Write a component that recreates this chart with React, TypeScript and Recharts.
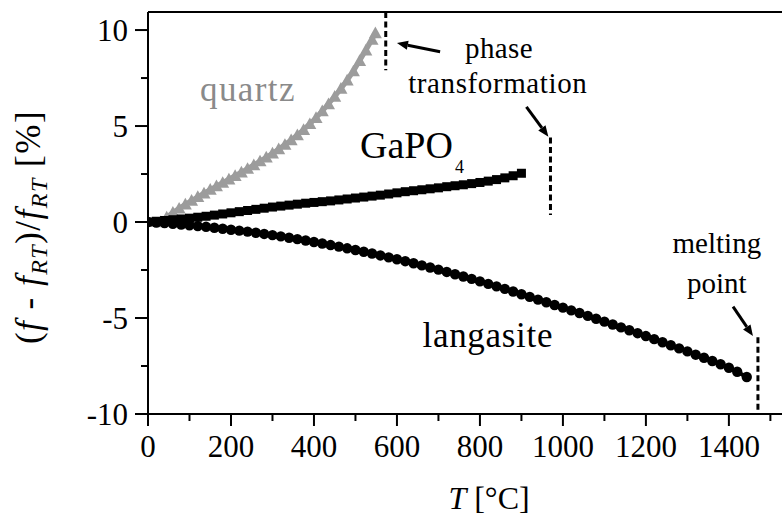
import React from 'react';
import { LineChart, Line, XAxis, YAxis, ReferenceLine, ReferenceDot } from 'recharts';

const SERIF = '"Liberation Serif", "Times New Roman", serif';

const X_MAX = 1528;
const Y_MIN = -10;
const Y_MAX = 10.94;
const xTicks = [0, 100, 200, 300, 400, 500, 600, 700, 800, 900, 1000, 1100, 1200, 1300, 1400, 1500];
const yTicks = [-10, -7.5, -5, -2.5, 0, 2.5, 5, 7.5, 10];

// quartz (grey triangles)
const quartzT = [30, 45, 60, 75, 90, 105, 120, 135, 150, 165, 180, 195, 210, 225, 240, 255, 270, 285, 300, 315, 330, 345, 360, 375, 390, 405, 420, 435, 450, 465, 480, 495, 510, 525, 540, 548];
const quartzV = [0.0, 0.25, 0.49, 0.71, 0.92, 1.12, 1.31, 1.5, 1.69, 1.87, 2.05, 2.23, 2.41, 2.59, 2.78, 2.97, 3.17, 3.37, 3.58, 3.8, 4.03, 4.27, 4.53, 4.81, 5.11, 5.43, 5.78, 6.15, 6.54, 6.95, 7.38, 7.86, 8.4, 8.95, 9.5, 9.84];

// GaPO4 (black squares)
const gapoT = [0, 20, 40, 60, 80, 100, 120, 140, 160, 180, 200, 220, 240, 260, 280, 300, 320, 340, 360, 380, 400, 420, 440, 460, 480, 500, 520, 540, 560, 580, 600, 620, 640, 660, 680, 700, 720, 740, 760, 780, 800, 820, 840, 860, 880, 900];
const gapoV = [0.0, 0.04, 0.08, 0.12, 0.16, 0.2, 0.25, 0.3, 0.36, 0.42, 0.48, 0.54, 0.6, 0.66, 0.72, 0.78, 0.83, 0.88, 0.93, 0.98, 1.02, 1.06, 1.1, 1.15, 1.2, 1.25, 1.3, 1.35, 1.4, 1.46, 1.52, 1.58, 1.63, 1.68, 1.73, 1.78, 1.84, 1.89, 1.94, 2.0, 2.06, 2.13, 2.21, 2.3, 2.41, 2.54];

// langasite (black circles)
const lgsT = [0, 20, 40, 60, 80, 100, 120, 140, 160, 180, 200, 220, 240, 260, 280, 300, 320, 340, 360, 380, 400, 420, 440, 460, 480, 500, 520, 540, 560, 580, 600, 620, 640, 660, 680, 700, 720, 740, 760, 780, 800, 820, 840, 860, 880, 900, 920, 940, 960, 980, 1000, 1020, 1040, 1060, 1080, 1100, 1120, 1140, 1160, 1180, 1200, 1220, 1240, 1260, 1280, 1300, 1320, 1340, 1360, 1380, 1400, 1420, 1443];
const lgsV = [0.0, -0.03, -0.06, -0.09, -0.13, -0.17, -0.21, -0.25, -0.3, -0.35, -0.4, -0.45, -0.5, -0.56, -0.62, -0.68, -0.75, -0.82, -0.89, -0.96, -1.04, -1.12, -1.2, -1.28, -1.37, -1.46, -1.55, -1.64, -1.74, -1.84, -1.94, -2.04, -2.15, -2.26, -2.37, -2.48, -2.6, -2.72, -2.84, -2.96, -3.09, -3.22, -3.35, -3.48, -3.62, -3.76, -3.9, -4.04, -4.18, -4.32, -4.46, -4.6, -4.74, -4.89, -5.04, -5.19, -5.34, -5.49, -5.64, -5.79, -5.94, -6.1, -6.26, -6.42, -6.58, -6.74, -6.91, -7.07, -7.24, -7.41, -7.59, -7.8, -8.07];

// phase transformations / melting point (dashed markers)
const markerT = [573, 970, 1470];
const markerTop = [Y_MAX, 4.4, -6.0];
const markerBottom = [7.9, 0.36, -10];

// arrows: tail -> head
const arrowFromT = [704, 912, 1410];
const arrowFromV = [8.87, 6.0, -4.41];
const arrowToT = [600, 965, 1458];
const arrowToV = [9.32, 4.44, -5.94];

const quartz = quartzT.map((T, i) => ({ T, v: quartzV[i] }));
const gapo = gapoT.map((T, i) => ({ T, v: gapoV[i] }));
const langasite = lgsT.map((T, i) => ({ T, v: lgsV[i] }));

const GREY = '#9c9c9c';

const XTick = (props: any) => {
  const { x, y, payload } = props;
  const major = payload.value % 200 === 0;
  return (
    <g>
      <line x1={x} x2={x} y1={y} y2={y + (major ? 12 : 7)} stroke="#000" strokeWidth={2} />
      {major && (
        <text x={x} y={y + 43} textAnchor="middle" fontSize={31} fontFamily={SERIF} fill="#000">
          {payload.value}
        </text>
      )}
    </g>
  );
};

const YTick = (props: any) => {
  const { x, y, payload } = props;
  const major = payload.value % 5 === 0;
  return (
    <g>
      <line x1={x} x2={x - (major ? 13 : 7)} y1={y} y2={y} stroke="#000" strokeWidth={2} />
      {major && (
        <text x={x - 20} y={y + 10.5} textAnchor="end" fontSize={31} fontFamily={SERIF} fill="#000">
          {payload.value}
        </text>
      )}
    </g>
  );
};

const Tri = (p: any) => {
  const { cx, cy, index } = p;
  if (cx == null || cy == null) return <g key={index} />;
  const s = 6.5;
  return <polygon key={index} points={`${cx},${cy - s} ${cx + s},${cy + s * 0.8} ${cx - s},${cy + s * 0.8}`} fill={GREY} />;
};

const Sq = (p: any) => {
  const { cx, cy, index } = p;
  if (cx == null || cy == null) return <g key={index} />;
  return <rect key={index} x={cx - 4.5} y={cy - 4.5} width={9} height={9} fill="#000" />;
};

const Circ = (p: any) => {
  const { cx, cy, index } = p;
  if (cx == null || cy == null) return <g key={index} />;
  return <circle key={index} cx={cx} cy={cy} r={5.2} fill="#000" />;
};

const ArrowShape = (p: any) => {
  const { x1, y1, x2, y2 } = p;
  const dx = x2 - x1;
  const dy = y2 - y1;
  const len = Math.sqrt(dx * dx + dy * dy) || 1;
  const ux = dx / len;
  const uy = dy / len;
  const hl = 11;
  const hw = 4.5;
  const bx = x2 - ux * hl;
  const by = y2 - uy * hl;
  return (
    <g>
      <line x1={x1} y1={y1} x2={bx} y2={by} stroke="#000" strokeWidth={3} />
      <polygon
        points={`${x2},${y2} ${bx - uy * hw},${by + ux * hw} ${bx + uy * hw},${by - ux * hw}`}
        fill="#000"
      />
    </g>
  );
};

const textAt = (content: React.ReactNode, anchor: string, size: number, color = '#000', spacing = 0) => (p: any) => (
  <text
    x={p.cx}
    y={p.cy}
    textAnchor={anchor}
    fontSize={size}
    fontFamily={SERIF}
    fill={color}
    letterSpacing={spacing}
  >
    {content}
  </text>
);

const YLabel = (props: any) => {
  const vb = props.viewBox || { x: 0, y: 12, width: 148, height: 402 };
  const cx = vb.x + 40;
  const cy = vb.y + vb.height / 2 + 14;
  return (
    <text
      transform={`rotate(-90, ${cx}, ${cy})`}
      x={cx}
      y={cy}
      textAnchor="middle"
      fontSize={35}
      fontFamily={SERIF}
      letterSpacing={1.5}
      fill="#000"
    >
      (<tspan fontStyle="italic">f</tspan> - <tspan fontStyle="italic">f</tspan>
      <tspan fontStyle="italic" fontSize={24} dy={7}>RT</tspan>
      <tspan dy={-7}>)/</tspan>
      <tspan fontStyle="italic">f</tspan>
      <tspan fontStyle="italic" fontSize={24} dy={7}>RT</tspan>
      <tspan dy={-7}> [%]</tspan>
    </text>
  );
};

const XLabel = (props: any) => {
  const vb = props.viewBox || { x: 148, y: 414, width: 634, height: 104 };
  const cx = vb.x + vb.width / 2 + 24;
  return (
    <text x={cx} y={vb.y + 95} textAnchor="middle" fontSize={32} fontFamily={SERIF} fill="#000">
      <tspan fontStyle="italic">T</tspan> [°C]
    </text>
  );
};

export default function App() {
  return (
    <div style={{ position: 'absolute', left: 0, top: 0, width: 782, height: 518, background: '#fff' }}>
      <LineChart width={782} height={518} margin={{ top: 12, right: 0, bottom: 0, left: 0 }}>
        <XAxis
          type="number"
          dataKey="T"
          domain={[0, X_MAX]}
          ticks={xTicks}
          interval={0}
          height={104}
          allowDataOverflow
          tickLine={false}
          tickSize={0}
          tickMargin={0}
          tick={(p: any) => <XTick {...p} />}
          axisLine={{ stroke: '#000', strokeWidth: 2 }}
          label={(p: any) => <XLabel {...p} />}
        />
        <YAxis
          type="number"
          domain={[Y_MIN, Y_MAX]}
          ticks={yTicks}
          interval={0}
          width={148}
          allowDataOverflow
          tickLine={false}
          tickSize={0}
          tickMargin={0}
          tick={(p: any) => <YTick {...p} />}
          axisLine={{ stroke: '#000', strokeWidth: 2 }}
          label={(p: any) => <YLabel {...p} />}
        />
        <ReferenceLine y={Y_MAX} stroke="#000" strokeWidth={2} />

        <Line data={quartz} dataKey="v" type="linear" stroke={GREY} strokeWidth={5} dot={Tri} activeDot={false} isAnimationActive={false} />
        <Line data={gapo} dataKey="v" type="linear" stroke="#000" strokeWidth={4} dot={Sq} activeDot={false} isAnimationActive={false} />
        <Line data={langasite} dataKey="v" type="linear" stroke="#000" strokeWidth={4} dot={Circ} activeDot={false} isAnimationActive={false} />

        {markerT.map((T, i) => (
          <ReferenceLine
            key={'m' + i}
            segment={[{ x: T, y: markerTop[i] }, { x: T, y: markerBottom[i] }]}
            stroke="#000"
            strokeWidth={3}
            strokeDasharray="6 3.5"
          />
        ))}
        {arrowFromT.map((T, i) => (
          <ReferenceLine
            key={'a' + i}
            segment={[{ x: T, y: arrowFromV[i] }, { x: arrowToT[i], y: arrowToV[i] }]}
            shape={ArrowShape}
          />
        ))}

        <ReferenceDot x={241} y={6.3} r={0} shape={textAt('quartz', 'middle', 35, '#8a8a8a', 1.4)} />
        <ReferenceDot
          x={511}
          y={3.33}
          r={0}
          shape={textAt(
            <>
              GaPO<tspan fontSize={18} dx={2} dy={15}>4</tspan>
            </>,
            'start',
            38
          )}
        />
        <ReferenceDot x={846} y={8.54} r={0} shape={textAt('phase', 'middle', 29, '#000', 0.4)} />
        <ReferenceDot x={843} y={6.72} r={0} shape={textAt('transformation', 'middle', 29, '#000', 0.6)} />
        <ReferenceDot x={1371} y={-1.61} r={0} shape={textAt('melting', 'middle', 29)} />
        <ReferenceDot x={1371} y={-3.7} r={0} shape={textAt('point', 'middle', 29)} />
        <ReferenceDot x={819} y={-6.51} r={0} shape={textAt('langasite', 'middle', 35, '#000', 0.7)} />
      </LineChart>
    </div>
  );
}
